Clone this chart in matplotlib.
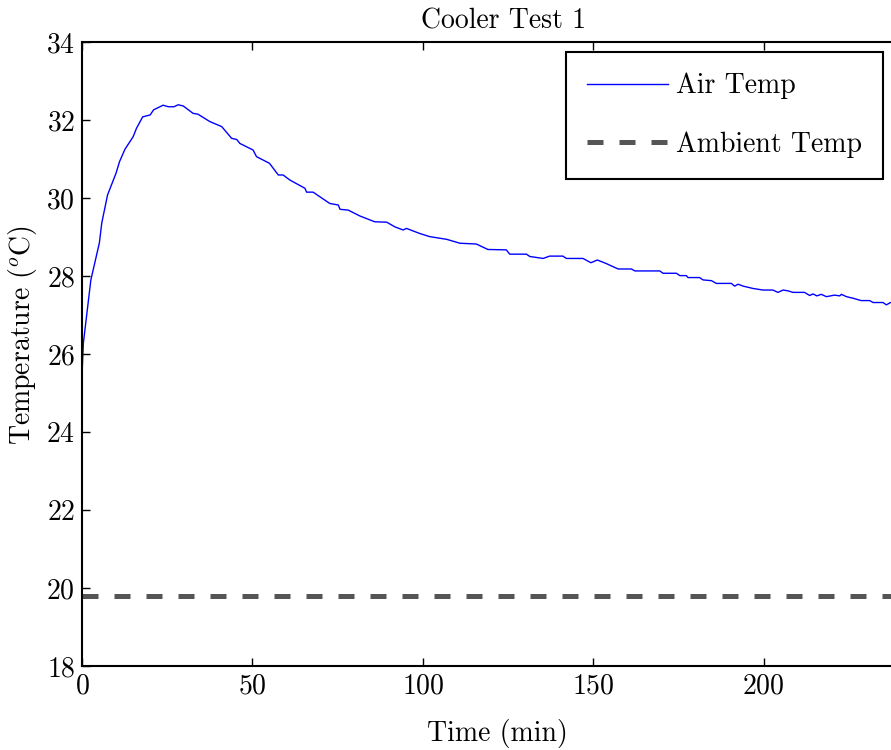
import matplotlib
matplotlib.use("Agg")
import matplotlib.pyplot as plt

plt.rcParams['font.family'] = ['cmr10', 'DejaVu Serif']
plt.rcParams['mathtext.fontset'] = 'cm'
plt.rcParams['axes.unicode_minus'] = False
plt.rcParams['axes.formatter.use_mathtext'] = True

# Data
time_min = [0, 0.4, 2.6, 5.1, 5.8, 7.5, 10, 11, 12.6, 15, 16, 17.8, 20, 21, 23.8,
            25.3, 27, 28.2, 29.7, 32.6, 34, 37.5, 41, 43.9, 45.4, 46.3, 50.2, 51.2,
            55, 57.6, 59, 61, 65.4, 65.9, 67.8, 72.7, 75.2, 75.7, 78.1, 81.5, 85.9,
            89.4, 91.8, 94.2, 95.2, 99.1, 102, 107, 110.9, 115.7, 119.1, 124.5,
            125.5, 130.4, 131.4, 135.3, 137.2, 141.1, 142.1, 147, 149.3, 151.2,
            153.8, 157.3, 161.2, 162.2, 169.5, 170.5, 174.4, 175.4, 177.3, 177.8,
            181.2, 182.2, 184.7, 186.1, 190.5, 191.5, 192.5, 194, 196.9, 199.8,
            202.7, 204.2, 205.7, 207.1, 208.6, 212, 213.5, 214.5, 215.6, 216.9,
            218.4, 220.8, 222.3, 222.8, 224.3, 226.2, 228.6, 231.1, 232.1, 235,
            236, 237.2, 240]
air_temp = [25.45, 26.28, 27.9, 28.85, 29.36, 30.08, 30.64, 30.93, 31.25, 31.57,
            31.79, 32.08, 32.13, 32.26, 32.38, 32.34, 32.34, 32.39, 32.36, 32.17,
            32.15, 31.96, 31.83, 31.53, 31.5, 31.4, 31.23, 31.06, 30.89, 30.59,
            30.59, 30.46, 30.25, 30.15, 30.15, 29.86, 29.82, 29.71, 29.69, 29.54,
            29.39, 29.38, 29.26, 29.18, 29.22, 29.09, 29.01, 28.94, 28.84, 28.82,
            28.68, 28.67, 28.56, 28.56, 28.5, 28.45, 28.51, 28.51, 28.45, 28.45,
            28.34, 28.41, 28.32, 28.18, 28.18, 28.13, 28.13, 28.07, 28.07, 28.01,
            28.01, 27.96, 27.96, 27.9, 27.88, 27.81, 27.81, 27.74, 27.79, 27.74,
            27.68, 27.64, 27.64, 27.58, 27.64, 27.62, 27.58, 27.58, 27.5, 27.54,
            27.49, 27.53, 27.47, 27.51, 27.49, 27.53, 27.47, 27.43, 27.37, 27.37,
            27.32, 27.32, 27.26, 27.32, 27.3]
ambient_time = [0, 240]
ambient_temp = [19.8, 19.8]

x_ticks = [0, 50, 100, 150, 200]
y_ticks = [18, 20, 22, 24, 26, 28, 30, 32, 34]

W, H = 891, 750
fig = plt.figure(figsize=(W / 100, H / 100), dpi=100)
ax = fig.add_axes([82 / W, (H - 666) / H, 818 / W, 624 / H])

ax.plot(time_min, air_temp, color='#0000ff', lw=1.0, label='Air Temp')
ax.plot(ambient_time, ambient_temp, color='#555555', lw=3.6, dashes=(3.2, 3.2),
        solid_capstyle='butt', dash_capstyle='butt', label='Ambient Temp')

ax.set_xlim(0, 240)
ax.set_ylim(18, 34)
ax.set_xticks(x_ticks)
ax.set_yticks(y_ticks)
ax.tick_params(direction='in', length=6, width=1.0, labelsize=20,
               top=True, right=True)
ax.tick_params(axis='x', pad=5)
ax.tick_params(axis='y', pad=5)
for s in ax.spines.values():
    s.set_linewidth(1.5)

ax.set_title('Cooler Test 1', fontsize=20, x=0.515, y=1.009)
ax.set_xlabel('Time (min)', fontsize=20)
ax.xaxis.set_label_coords(0.508, -0.085)
ax.set_ylabel(r'Temperature ($^o$C)', fontsize=20)
ax.yaxis.label.set_va('center')
ax.yaxis.set_label_coords(-0.073, 0.53)

leg = ax.legend(loc='upper right', bbox_to_anchor=(883 / W, 1 - 52 / H),
                bbox_transform=fig.transFigure, borderaxespad=0,
                fontsize=20, frameon=True, fancybox=False, framealpha=1,
                edgecolor='black', handlelength=2.9, handletextpad=0.3,
                labelspacing=1.15, borderpad=0.75)
leg.get_frame().set_linewidth(1.5)

fig.savefig('out.png', dpi=100)
